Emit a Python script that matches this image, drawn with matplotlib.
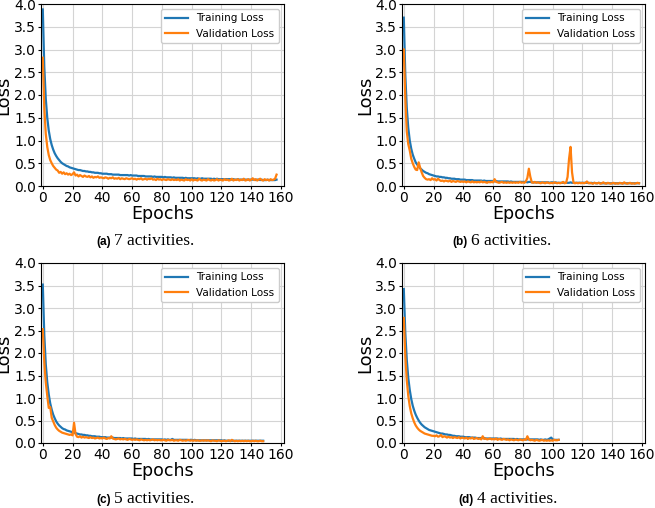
import matplotlib
matplotlib.use("Agg")
import matplotlib.pyplot as plt

# per-epoch losses
train_a = [3.88, 2.62, 1.92, 1.50, 1.22, 1.03, 0.90, 0.80, 0.72, 0.66,
           0.61, 0.57, 0.53, 0.50, 0.48, 0.46, 0.44, 0.43, 0.41, 0.40,
           0.39, 0.38, 0.37, 0.36, 0.35, 0.35, 0.34, 0.33, 0.33, 0.32,
           0.32, 0.31, 0.31, 0.30, 0.30, 0.29, 0.29, 0.29, 0.28, 0.28,
           0.27, 0.27, 0.27, 0.27, 0.26, 0.26, 0.26, 0.25, 0.25, 0.25,
           0.25, 0.25, 0.24, 0.24, 0.24, 0.24, 0.24, 0.24, 0.23, 0.24,
           0.23, 0.23, 0.23, 0.23, 0.22, 0.22, 0.22, 0.22, 0.22, 0.21,
           0.21, 0.21, 0.21, 0.21, 0.20, 0.21, 0.20, 0.20, 0.20, 0.20,
           0.20, 0.19, 0.20, 0.19, 0.19, 0.19, 0.19, 0.18, 0.19, 0.18,
           0.18, 0.18, 0.18, 0.18, 0.18, 0.17, 0.18, 0.17, 0.17, 0.17,
           0.17, 0.17, 0.17, 0.16, 0.17, 0.16, 0.16, 0.17, 0.16, 0.16,
           0.16, 0.16, 0.16, 0.16, 0.15, 0.16, 0.15, 0.16, 0.15, 0.15,
           0.15, 0.15, 0.15, 0.15, 0.15, 0.15, 0.15, 0.14, 0.15, 0.14,
           0.14, 0.15, 0.14, 0.14, 0.14, 0.14, 0.14, 0.14, 0.14, 0.14,
           0.14, 0.14, 0.14, 0.13, 0.14, 0.14, 0.13, 0.14, 0.13, 0.13,
           0.13, 0.14, 0.13, 0.13, 0.13, 0.13, 0.13, 0.14]
val_a = [2.82, 1.72, 1.15, 0.86, 0.68, 0.57, 0.50, 0.44, 0.40, 0.36,
         0.34, 0.29, 0.31, 0.27, 0.30, 0.26, 0.28, 0.25, 0.27, 0.24,
         0.26, 0.30, 0.23, 0.25, 0.21, 0.24, 0.22, 0.20, 0.23, 0.21,
         0.20, 0.22, 0.19, 0.21, 0.18, 0.20, 0.19, 0.21, 0.18, 0.19,
         0.18, 0.17, 0.19, 0.18, 0.16, 0.18, 0.17, 0.19, 0.16, 0.17,
         0.16, 0.18, 0.15, 0.17, 0.16, 0.15, 0.17, 0.16, 0.15, 0.16,
         0.17, 0.15, 0.16, 0.14, 0.16, 0.15, 0.17, 0.14, 0.15, 0.16,
         0.14, 0.16, 0.15, 0.17, 0.14, 0.15, 0.13, 0.16, 0.14, 0.15,
         0.13, 0.15, 0.14, 0.13, 0.15, 0.14, 0.13, 0.15, 0.13, 0.14,
         0.13, 0.15, 0.12, 0.14, 0.13, 0.12, 0.15, 0.13, 0.14, 0.12,
         0.15, 0.12, 0.14, 0.13, 0.12, 0.16, 0.13, 0.12, 0.14, 0.13,
         0.12, 0.15, 0.13, 0.12, 0.14, 0.12, 0.13, 0.15, 0.12, 0.14,
         0.13, 0.12, 0.15, 0.13, 0.14, 0.12, 0.13, 0.16, 0.12, 0.14,
         0.13, 0.15, 0.12, 0.14, 0.13, 0.16, 0.12, 0.13, 0.15, 0.12,
         0.14, 0.17, 0.13, 0.15, 0.12, 0.14, 0.16, 0.13, 0.12, 0.15,
         0.13, 0.14, 0.12, 0.15, 0.13, 0.14, 0.16, 0.25]

train_b = [3.70, 2.45, 1.72, 1.28, 1.00, 0.82, 0.69, 0.60, 0.52, 0.47,
           0.43, 0.39, 0.36, 0.33, 0.31, 0.29, 0.28, 0.26, 0.25, 0.24,
           0.23, 0.22, 0.21, 0.21, 0.20, 0.20, 0.19, 0.19, 0.18, 0.18,
           0.17, 0.17, 0.16, 0.16, 0.16, 0.15, 0.15, 0.15, 0.14, 0.14,
           0.14, 0.14, 0.13, 0.13, 0.13, 0.13, 0.13, 0.12, 0.12, 0.12,
           0.12, 0.12, 0.12, 0.11, 0.12, 0.11, 0.11, 0.11, 0.11, 0.11,
           0.11, 0.10, 0.11, 0.10, 0.10, 0.10, 0.10, 0.10, 0.10, 0.10,
           0.10, 0.09, 0.10, 0.09, 0.09, 0.09, 0.09, 0.09, 0.09, 0.09,
           0.09, 0.09, 0.09, 0.08, 0.09, 0.09, 0.08, 0.08, 0.08, 0.08,
           0.08, 0.08, 0.08, 0.08, 0.08, 0.08, 0.08, 0.08, 0.07, 0.08,
           0.08, 0.07, 0.08, 0.07, 0.07, 0.07, 0.07, 0.07, 0.07, 0.07,
           0.07, 0.07, 0.08, 0.07, 0.07, 0.07, 0.07, 0.07, 0.07, 0.07,
           0.07, 0.07, 0.07, 0.07, 0.07, 0.06, 0.07, 0.06, 0.07, 0.06,
           0.06, 0.07, 0.06, 0.06, 0.06, 0.06, 0.06, 0.06, 0.06, 0.06,
           0.06, 0.06, 0.06, 0.06, 0.06, 0.06, 0.06, 0.06, 0.06, 0.06,
           0.06, 0.06, 0.06, 0.06, 0.06, 0.06, 0.06, 0.06, 0.06]
val_b = [3.00, 1.95, 1.20, 0.92, 0.78, 0.60, 0.50, 0.42, 0.36, 0.35,
         0.52, 0.40, 0.30, 0.22, 0.18, 0.15, 0.14, 0.15, 0.13, 0.17,
         0.14, 0.15, 0.12, 0.16, 0.13, 0.11, 0.12, 0.10, 0.12, 0.11,
         0.10, 0.12, 0.09, 0.11, 0.10, 0.09, 0.11, 0.10, 0.09, 0.10,
         0.09, 0.10, 0.08, 0.10, 0.09, 0.08, 0.10, 0.08, 0.09, 0.08,
         0.09, 0.08, 0.10, 0.08, 0.09, 0.08, 0.07, 0.09, 0.08, 0.09,
         0.08, 0.15, 0.09, 0.08, 0.07, 0.08, 0.09, 0.07, 0.08, 0.07,
         0.08, 0.07, 0.08, 0.07, 0.08, 0.07, 0.08, 0.07, 0.09, 0.07,
         0.08, 0.07, 0.10, 0.18, 0.38, 0.20, 0.08, 0.07, 0.09, 0.07,
         0.08, 0.07, 0.06, 0.08, 0.07, 0.06, 0.08, 0.07, 0.06, 0.07,
         0.06, 0.08, 0.07, 0.06, 0.07, 0.06, 0.07, 0.09, 0.06, 0.07,
         0.20, 0.60, 0.86, 0.30, 0.07, 0.06, 0.07, 0.06, 0.07, 0.06,
         0.07, 0.06, 0.07, 0.10, 0.06, 0.07, 0.06, 0.05, 0.07, 0.06,
         0.06, 0.07, 0.05, 0.06, 0.08, 0.06, 0.05, 0.07, 0.06, 0.05,
         0.06, 0.07, 0.05, 0.06, 0.05, 0.07, 0.06, 0.05, 0.08, 0.06,
         0.05, 0.06, 0.07, 0.05, 0.06, 0.05, 0.06, 0.07, 0.06]

train_c = [3.52, 2.40, 1.75, 1.35, 1.08, 0.88, 0.74, 0.63, 0.55, 0.48,
           0.43, 0.39, 0.36, 0.33, 0.31, 0.30, 0.28, 0.27, 0.26, 0.25,
           0.24, 0.23, 0.22, 0.21, 0.20, 0.19, 0.19, 0.18, 0.18, 0.17,
           0.17, 0.16, 0.16, 0.15, 0.15, 0.15, 0.14, 0.14, 0.14, 0.13,
           0.13, 0.13, 0.13, 0.12, 0.12, 0.12, 0.12, 0.12, 0.11, 0.11,
           0.11, 0.11, 0.11, 0.10, 0.11, 0.10, 0.10, 0.10, 0.10, 0.10,
           0.10, 0.09, 0.10, 0.09, 0.09, 0.09, 0.09, 0.09, 0.09, 0.09,
           0.08, 0.09, 0.08, 0.08, 0.08, 0.08, 0.08, 0.08, 0.08, 0.08,
           0.08, 0.07, 0.08, 0.07, 0.08, 0.07, 0.07, 0.09, 0.07, 0.07,
           0.07, 0.07, 0.07, 0.07, 0.07, 0.07, 0.07, 0.07, 0.06, 0.07,
           0.07, 0.06, 0.07, 0.06, 0.06, 0.06, 0.06, 0.06, 0.06, 0.06,
           0.06, 0.06, 0.06, 0.06, 0.06, 0.06, 0.06, 0.06, 0.06, 0.06,
           0.06, 0.05, 0.06, 0.05, 0.05, 0.05, 0.05, 0.05, 0.05, 0.05,
           0.05, 0.05, 0.05, 0.05, 0.05, 0.05, 0.05, 0.05, 0.05, 0.05,
           0.05, 0.05, 0.05, 0.05, 0.05, 0.05, 0.05, 0.05, 0.05]
val_c = [2.53, 1.80, 1.35, 1.05, 0.78, 0.80, 0.56, 0.48, 0.40, 0.34,
         0.30, 0.27, 0.25, 0.23, 0.22, 0.21, 0.20, 0.19, 0.18, 0.19,
         0.17, 0.45, 0.20, 0.14, 0.13, 0.15, 0.12, 0.14, 0.12, 0.13,
         0.12, 0.11, 0.13, 0.11, 0.12, 0.10, 0.11, 0.12, 0.10, 0.11,
         0.10, 0.12, 0.10, 0.09, 0.11, 0.10, 0.15, 0.10, 0.09, 0.08,
         0.09, 0.10, 0.08, 0.09, 0.08, 0.09, 0.08, 0.07, 0.09, 0.08,
         0.07, 0.08, 0.07, 0.08, 0.07, 0.06, 0.08, 0.07, 0.06, 0.07,
         0.06, 0.07, 0.06, 0.07, 0.08, 0.06, 0.07, 0.06, 0.07, 0.06,
         0.06, 0.07, 0.06, 0.05, 0.07, 0.06, 0.06, 0.07, 0.05, 0.06,
         0.06, 0.05, 0.07, 0.06, 0.05, 0.06, 0.05, 0.06, 0.07, 0.05,
         0.06, 0.05, 0.06, 0.05, 0.06, 0.05, 0.05, 0.06, 0.05, 0.06,
         0.05, 0.06, 0.05, 0.04, 0.06, 0.05, 0.05, 0.04, 0.06, 0.05,
         0.04, 0.05, 0.05, 0.04, 0.05, 0.06, 0.04, 0.07, 0.05, 0.04,
         0.05, 0.04, 0.05, 0.04, 0.05, 0.04, 0.05, 0.04, 0.05, 0.04,
         0.04, 0.05, 0.04, 0.05, 0.04, 0.04, 0.05, 0.04, 0.04]

train_d = [3.42, 2.45, 1.85, 1.45, 1.18, 0.98, 0.83, 0.72, 0.63, 0.56,
           0.50, 0.45, 0.41, 0.38, 0.35, 0.33, 0.31, 0.29, 0.28, 0.27,
           0.26, 0.25, 0.24, 0.23, 0.22, 0.21, 0.21, 0.20, 0.19, 0.19,
           0.18, 0.18, 0.17, 0.16, 0.16, 0.15, 0.15, 0.15, 0.14, 0.14,
           0.14, 0.13, 0.13, 0.13, 0.13, 0.12, 0.12, 0.12, 0.12, 0.11,
           0.11, 0.11, 0.11, 0.11, 0.11, 0.10, 0.10, 0.10, 0.10, 0.10,
           0.10, 0.10, 0.10, 0.10, 0.09, 0.10, 0.09, 0.09, 0.09, 0.09,
           0.09, 0.09, 0.09, 0.09, 0.09, 0.08, 0.09, 0.08, 0.08, 0.08,
           0.08, 0.08, 0.08, 0.08, 0.08, 0.08, 0.08, 0.08, 0.08, 0.08,
           0.08, 0.07, 0.08, 0.07, 0.07, 0.08, 0.07, 0.08, 0.10, 0.12,
           0.08, 0.07, 0.07, 0.07, 0.07]
val_d = [2.78, 1.95, 1.40, 1.05, 0.82, 0.66, 0.55, 0.46, 0.39, 0.34,
         0.30, 0.27, 0.25, 0.23, 0.21, 0.20, 0.19, 0.18, 0.17, 0.16,
         0.16, 0.15, 0.17, 0.14, 0.15, 0.18, 0.13, 0.15, 0.14, 0.12,
         0.14, 0.12, 0.13, 0.11, 0.13, 0.12, 0.11, 0.13, 0.10, 0.12,
         0.11, 0.10, 0.12, 0.09, 0.11, 0.10, 0.12, 0.09, 0.10, 0.11,
         0.09, 0.10, 0.08, 0.15, 0.09, 0.10, 0.08, 0.09, 0.10, 0.08,
         0.09, 0.08, 0.10, 0.07, 0.09, 0.08, 0.07, 0.09, 0.08, 0.07,
         0.08, 0.06, 0.08, 0.07, 0.06, 0.08, 0.07, 0.06, 0.08, 0.07,
         0.06, 0.08, 0.07, 0.15, 0.08, 0.06, 0.07, 0.06, 0.05, 0.07,
         0.06, 0.05, 0.06, 0.07, 0.05, 0.06, 0.05, 0.06, 0.05, 0.06,
         0.05, 0.07, 0.06, 0.06, 0.07]

tags = ["(a)", "(b)", "(c)", "(d)"]
captions = ["7 activities.", "6 activities.", "5 activities.", "4 activities."]
runs = [(train_a, val_a), (train_b, val_b), (train_c, val_c), (train_d, val_d)]

W, H = 655, 508
fig = plt.figure(figsize=(W / 100, H / 100), dpi=100)

# axes boxes in pixels: left, top, right, bottom
boxes = [(41, 4, 284, 186), (402, 4, 645, 186),
         (41, 263, 284, 443), (402, 263, 645, 443)]
# caption split x and baseline y (pixels)
cap_pos = [(112, 245), (469, 245), (112, 503), (475, 503)]

for i, (tr, va) in enumerate(runs):
    l, t, r, b = boxes[i]
    ax = fig.add_axes([l / W, 1 - b / H, (r - l) / W, (b - t) / H])
    ax.plot(range(len(tr)), tr, color="#1f77b4", lw=1.6, label="Training Loss")
    ax.plot(range(len(va)), va, color="#ff7f0e", lw=1.6, label="Validation Loss")
    ax.set_xlim(-1.2, 162)
    ax.set_ylim(0, 4)
    ax.set_xticks(range(0, 161, 20))
    ax.set_yticks([0, 0.5, 1, 1.5, 2, 2.5, 3, 3.5, 4])
    ax.set_yticklabels([f"{v:.1f}" for v in ax.get_yticks()])
    ax.tick_params(labelsize=10, length=2.5, pad=1)
    ax.grid(True, color="#d4d4d4", lw=0.8)
    ax.set_axisbelow(True)
    ax.set_xlabel("Epochs", fontsize=12.5, labelpad=0)
    ax.set_ylabel("Loss", fontsize=13, labelpad=1)
    ax.legend(loc="upper right", fontsize=7.5, handlelength=2.2,
              borderaxespad=0.5, framealpha=1.0)

    cx, cy = cap_pos[i]
    fig.text((cx - 1) / W, 1 - cy / H, tags[i], ha="right", va="baseline",
             fontsize=8.5, fontweight="bold", family="Liberation Sans")
    fig.text((cx + 2) / W, 1 - cy / H, captions[i], ha="left", va="baseline",
             fontsize=12.5, family="Liberation Serif")

fig.savefig("out.png", dpi=100)
